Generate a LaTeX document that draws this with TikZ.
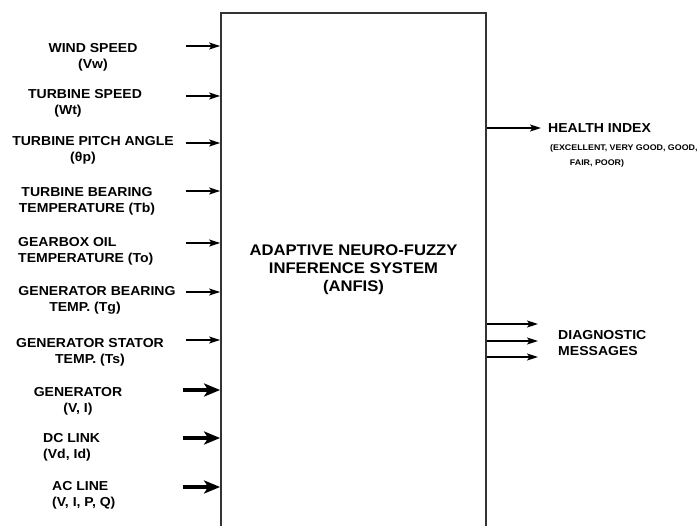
\documentclass[tikz,border=0pt]{standalone}
\usepackage{fontspec}
\setmainfont{Liberation Sans}[FakeStretch=1.08]
\usetikzlibrary{arrows.meta}
\begin{document}
\begin{tikzpicture}[x=1pt,y=-1pt,
  lbl/.style={font=\bfseries\fontsize{13}{16}\selectfont, inner sep=0pt, text=black},
  small/.style={font=\bfseries\fontsize{8.2}{15}\selectfont, inner sep=0pt, text=black},
  big/.style={font=\bfseries\fontsize{15.4}{18}\selectfont, inner sep=0pt, text=black},
  thin/.style={line width=1.3pt, -{Stealth[length=11pt,width=7pt,inset=2.5pt]}},
  thick/.style={line width=3.5pt, -{Stealth[length=16pt,width=13pt,inset=4pt]}}]
\useasboundingbox (0,0) rectangle (700,526);
\clip (0,0) rectangle (700,526);
\fill[white] (0,0) rectangle (700,526);
% main box (open at the bottom)
\node[draw=black!80, line width=1.8pt, minimum width=265pt, minimum height=600pt, inner sep=0pt] (anfis) at (353.5,313) {};
\node[big, align=center] (title) at (353.5,270) {ADAPTIVE NEURO-FUZZY\\INFERENCE SYSTEM\\(ANFIS)};
% input labels
\node[lbl, align=center] (l1) at (93,57.5) {WIND SPEED\\(Vw)};
\node[lbl, align=center] (l2) at (85,103.5) {TURBINE SPEED\\(Wt)\hspace*{34pt}};
\node[lbl, align=center] (l3) at (93,150.5) {TURBINE PITCH ANGLE\\(θp)\hspace*{20pt}};
\node[lbl, align=center] (l4) at (87,201.5) {TURBINE BEARING\\TEMPERATURE (Tb)};
\node[lbl, align=left, anchor=west] (l5) at (18,251) {GEARBOX OIL\\TEMPERATURE (To)};
\node[lbl, align=center] (l6) at (97,300) {GENERATOR BEARING\\TEMP. (Tg)\hspace*{24pt}};
\node[lbl, align=center] (l7) at (90,352.5) {GENERATOR STATOR\\TEMP. (Ts)};
\node[lbl, align=center] (l8) at (78,401.5) {GENERATOR\\(V, I)};
\node[lbl, align=left, anchor=west] (l9) at (43,447) {DC LINK\\(Vd, Id)};
\node[lbl, align=left, anchor=west] (l10) at (52,495) {AC LINE\\(V, I, P, Q)};
% input arrows
\foreach \y [count=\i] in {46,96,143,191,243,292,340} {
  \coordinate (s\i) at (186,\y);
  \draw[thin] (s\i) -- (anfis.west |- s\i);
}
\foreach \y [count=\i from 8] in {390,438,487} {
  \coordinate (s\i) at (183,\y);
  \draw[thick] (s\i) -- (anfis.west |- s\i);
}
% outputs
\coordinate (h) at (541,128);
\draw[thin] (anfis.east |- h) -- (h);
\node[lbl, anchor=west] (hi) at (548,128) {HEALTH INDEX};
\node[small, anchor=west] (hs1) at (550,148) {(EXCELLENT, VERY GOOD, GOOD,};
\node[small] (hs2) at (597,163) {FAIR, POOR)};
\foreach \y [count=\i] in {324,341,357} {
  \coordinate (d\i) at (538,\y);
  \draw[thin] (anfis.east |- d\i) -- (d\i);
}
\node[lbl, align=left, anchor=west] (dm) at (558,343.5) {DIAGNOSTIC\\MESSAGES};
\end{tikzpicture}
\end{document}
